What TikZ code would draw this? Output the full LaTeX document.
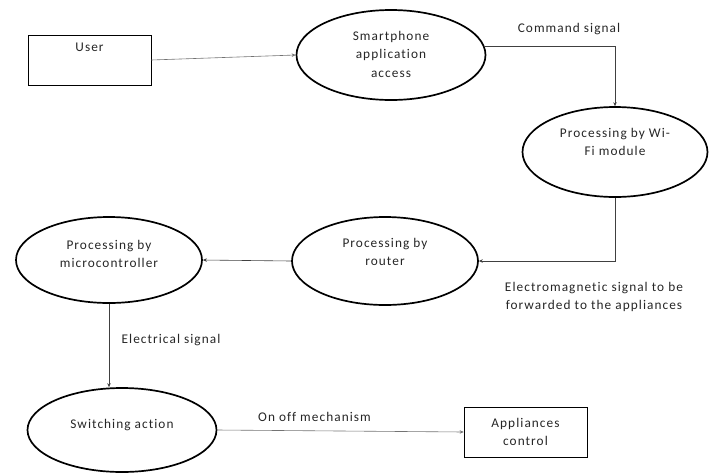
\documentclass[tikz,border=0pt]{standalone}
\usepackage{fontspec}
\setmainfont{Carlito}[LetterSpace=8,Ligatures=NoCommon]
\usetikzlibrary{arrows.meta,shapes.geometric}
\begin{document}
\begin{tikzpicture}[x=1pt,y=-1pt,
  font=\fontsize{13.3}{18.5}\selectfont,
  ell/.style={draw, ellipse, line width=1.7pt, inner sep=0pt},
  box/.style={draw, rectangle, line width=0.6pt, inner sep=0pt, align=center},
  txt/.style={inner sep=0pt, align=center, text=black!85},
  arr/.style={draw=black!75, line width=0.6pt, -{Stealth[length=4pt,width=3.5pt]}}
]
\useasboundingbox (0,0) rectangle (713,475);
% shapes
\node[box, minimum width=123pt, minimum height=50pt] (user) at (89.5,60) {};
\node[txt, anchor=base] (usert) at (89.5,51) {User};
\node[ell, minimum width=189pt, minimum height=90pt] (smart) at (391,55) {};
\node[txt] (smartt) at (391,54) {Smartphone\\application\\access};
\node[ell, minimum width=185pt, minimum height=90pt] (wifi) at (615,152) {};
\node[txt] (wifit) at (615,142) {Processing by Wi-\\Fi module};
\node[ell, minimum width=186pt, minimum height=88pt] (router) at (385,261) {};
\node[txt] (routert) at (385,252) {Processing by\\router};
\node[ell, minimum width=186pt, minimum height=86pt] (micro) at (109,260) {};
\node[txt] (microt) at (109,254) {Processing by\\microcontroller};
\node[ell, minimum width=189pt, minimum height=84pt] (switch) at (122,430) {};
\node[txt] (switcht) at (122,425) {Switching action};
\node[box, minimum width=123pt, minimum height=50pt, text=black!85] (app) at (525.5,432) {Appliances\\control};
% labels
\node[txt] (l1) at (569,29) {Command signal};
\node[txt] (l2) at (594,297) {Electromagnetic signal to be\\forwarded to the appliances};
\node[txt] (l3) at (171,340) {Electrical signal};
\node[txt] (l4) at (314.5,417) {On off mechanism};
% connectors
\draw[arr, draw=black!55] (user.east) -- (smart.west);
\draw[arr] (smart.5) -| (wifi.north);
\draw[arr] (wifi.south) |- (router.east);
\draw[arr] (router.west) -- (micro.east);
\draw[arr] (micro.south) -- (micro.south |- switch.north);
\draw[arr, draw=black!55] (switch.east) -- (app.west);
\end{tikzpicture}
\end{document}
